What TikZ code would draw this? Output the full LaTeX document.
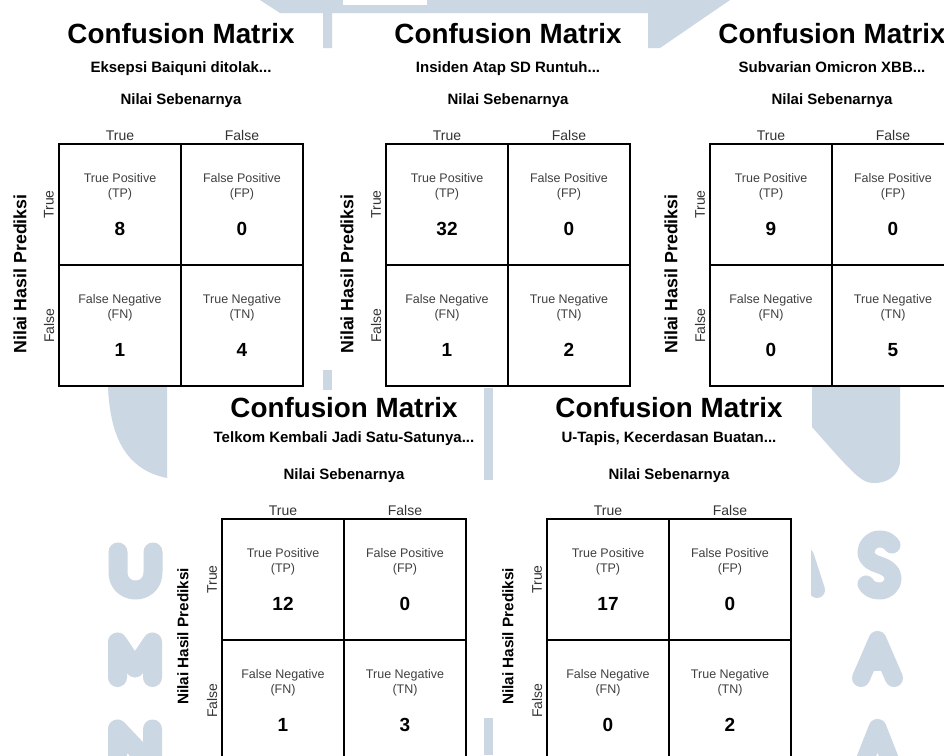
\documentclass[tikz,border=0pt]{standalone}
\usepackage{fontspec}
\setmainfont{Liberation Sans}

\definecolor{wm}{HTML}{CBD7E2}
\definecolor{cellgray}{HTML}{404040}
\definecolor{headgray}{HTML}{333333}

\tikzset{
  gridcell/.style={draw=black, line width=2pt, minimum width=122pt, minimum height=121pt, inner sep=0pt, outer sep=0pt},
  cmtitle/.style={font=\fontsize{27.8}{30}\selectfont\bfseries, inner sep=0pt, anchor=base},
  cmsub/.style={font=\fontsize{15}{17}\selectfont\bfseries, inner sep=0pt, anchor=base},
  axhead/.style={font=\fontsize{14}{16}\selectfont, text=headgray, inner sep=0pt},
  rowtitle/.style={font=\fontsize{\cmlabsize}{20}\selectfont\bfseries, inner sep=0pt, rotate=90},
  celllabel/.style={font=\fontsize{12.5}{14.5}\selectfont, text=cellgray, inner sep=0pt, anchor=base},
  cellnum/.style={font=\fontsize{19}{21}\selectfont\bfseries, inner sep=0pt, anchor=base},
  wmstroke/.style={draw=wm, line cap=round, line join=round},
}

% one cell's texts: #1 name, #2 x centre, #3 top of cell, #4 label, #5 short form, #6 count
\newcommand\cmcelltext[6]{%
  \node[celllabel] (#1-a) at (#2,#3+38.5) {#4};
  \node[celllabel] (#1-b) at (#2,#3+53) {(#5)};
  \node[cellnum]   (#1-n) at (#2,#3+91) {#6};
}

% a full matrix: #1 name, #2 left of grid, #3 top of grid, #4 subtitle, #5 TP, #6 FP, #7 FN, #8 TN
\newcommand\cmpanel[8]{%
  \node[cmtitle] (#1-title) at (#2+122,#3+\cmtitledy) {Confusion Matrix};
  \node[cmsub] (#1-sub) at (#2+122,#3+\cmsubdy) {#4};
  \node[cmsub] (#1-actual) at (#2+122,#3-40) {Nilai Sebenarnya};
  \node[axhead, anchor=base] (#1-ct) at (#2+61,#3-4) {True};
  \node[axhead, anchor=base] (#1-cf) at (#2+183,#3-4) {False};
  \node[rowtitle] (#1-pred) at (#2-39,#3+\cmlabdy) {Nilai Hasil Prediksi};
  \node[axhead, rotate=90] (#1-rt) at (#2-10,#3+60.5) {True};
  \node[axhead, rotate=90] (#1-rf) at (#2-10,#3+181.5) {False};
  \node[gridcell] (#1-tp) at (#2+61,#3+60.5) {};
  \node[gridcell] (#1-fp) at (#2+183,#3+60.5) {};
  \node[gridcell] (#1-fn) at (#2+61,#3+181.5) {};
  \node[gridcell] (#1-tn) at (#2+183,#3+181.5) {};
  \cmcelltext{#1-tpt}{#2+61}{#3}{True Positive}{TP}{#5}
  \cmcelltext{#1-fpt}{#2+183}{#3}{False Positive}{FP}{#6}
  \cmcelltext{#1-fnt}{#2+61}{#3+121}{False Negative}{FN}{#7}
  \cmcelltext{#1-tnt}{#2+183}{#3+121}{True Negative}{TN}{#8}
}

\begin{document}
\begin{tikzpicture}[x=1pt, y=-1pt]
  \useasboundingbox (0,0) rectangle (944,755);
  \clip (0,0) rectangle (944,755);
  \fill[white] (0,0) rectangle (944,755);

  % faint logo lettering behind the matrices
  \fill[wm] (260,0) -- (730,0) -- (660,48) -- (648,48) -- (648,13) -- (332,13)
            -- (332,48) -- (323,48) -- (323,13) -- (280,13) -- cycle;
  \fill[white] (343,0) rectangle (427,5);
  \fill[wm] (323,370) rectangle (332,390);
  \fill[wm] (108,386) -- (167,386) -- (167,478) .. controls (128,470) and (110,440) .. (108,386) -- cycle;
  \fill[wm] (812,386) -- (900,386) -- (900,460) .. controls (900,476) and (886,484) .. (872,483)
            .. controls (860,482) and (850,470) .. (812,427) -- cycle;
  \fill[wm] (484,388) rectangle (493,480);
  \fill[wm] (484,718) rectangle (493,755);
  \draw[wmstroke, line width=19pt] (118,552) -- (118,572) .. controls (118,596) and (153,596) .. (153,572) -- (153,552);
  \draw[wmstroke, line width=19pt] (117.5,677.5) -- (117.5,642) -- (135,668) -- (152.5,642) -- (152.5,677.5);
  \draw[wmstroke, line width=19pt] (117.5,775) -- (117.5,729) -- (152.5,766) -- (152.5,729);
  \draw[wmstroke, line width=17pt] (892,545) .. controls (889,541) and (885,539) .. (879.5,539)
       .. controls (872,539) and (866,545) .. (866,552)
       .. controls (866,560) and (873,563) .. (879.5,565)
       .. controls (886,567) and (893,571) .. (893,578)
       .. controls (893,586) and (887,591) .. (879.5,591)
       .. controls (873,591) and (868,588) .. (866,584);
  \draw[wmstroke, line width=18pt] (861,678) -- (877.5,640) -- (894,678);
  \draw[wmstroke, line width=11pt] (867,665) -- (888,665);
  \draw[wmstroke, line width=18pt] (861,770) -- (877.5,728) -- (894,770);
  \begin{scope}
    \clip (811,540) rectangle (835,610);
    \draw[wmstroke, line width=16pt] (806,556) -- (817,590);
  \end{scope}

  % top row of matrices
  \def\cmtitledy{-101}\def\cmsubdy{-71.5}\def\cmlabdy{130}\def\cmlabsize{17.8}
  \cmpanel{ma}{59}{144}{Eksepsi Baiquni ditolak...}{8}{0}{1}{4}
  \cmpanel{mb}{386}{144}{Insiden Atap SD Runtuh...}{32}{0}{1}{2}
  \cmpanel{mc}{710}{144}{Subvarian Omicron XBB...}{9}{0}{0}{5}

  % bottom row of matrices
  \def\cmtitledy{-102}\def\cmsubdy{-76.5}\def\cmlabdy{117.5}\def\cmlabsize{15.3}
  \cmpanel{md}{222}{519}{Telkom Kembali Jadi Satu-Satunya...}{12}{0}{1}{3}
  \cmpanel{me}{547}{519}{U-Tapis, Kecerdasan Buatan...}{17}{0}{0}{2}
\end{tikzpicture}
\end{document}
